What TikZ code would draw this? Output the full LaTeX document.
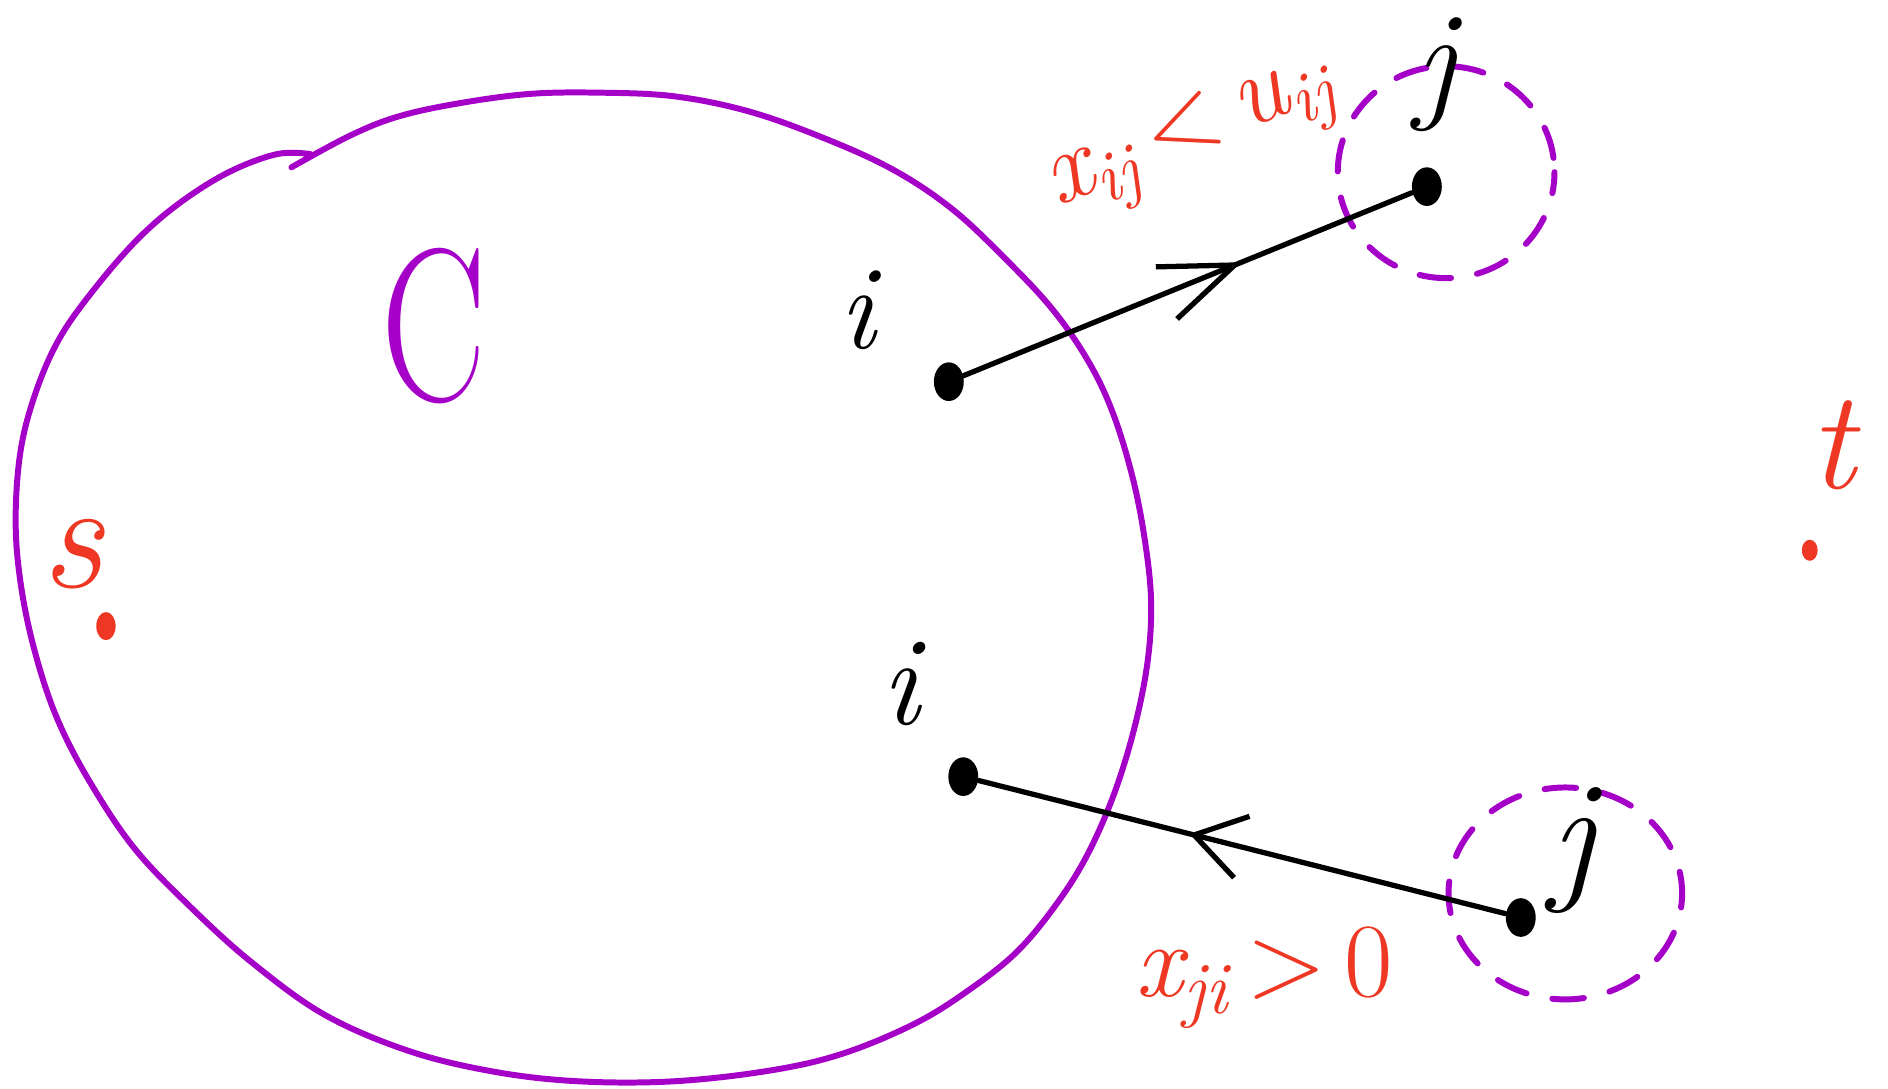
\documentclass[tikz,border=0pt]{standalone}
\usepackage{fontspec}
\usetikzlibrary{shapes.geometric,arrows.meta,decorations.markings}
\definecolor{hpurple}{RGB}{165,0,200}
\definecolor{hred}{RGB}{238,56,36}
\newcommand\lowsub[1]{\textsubscript{#1}}
\begin{document}
\begin{tikzpicture}[x=0.012041cm,y=-0.012041cm,
  pen/.style={line width=1.5pt,line cap=round,line join=round},
  ppen/.style={hpurple,line width=1.7pt,line cap=round,line join=round},
  dashring/.style={ppen,dash pattern=on 9pt off 7.5pt},
  vdot/.style={ellipse,fill=black,draw=none,inner sep=0pt,minimum width=8.5pt,minimum height=11pt},
  rdot/.style={ellipse,fill=hred,draw=none,inner sep=0pt,minimum width=5pt,minimum height=7pt},
  blab/.style={black,inner sep=0pt},
  rlab/.style={hred,inner sep=0pt},
  midarrow/.style 2 args={postaction={decorate},decoration={markings,
     mark=at position #1 with {\arrow{#2}}}}]
\useasboundingbox (0,0) rectangle (1568,904);

% cut C
\draw[ppen] plot[smooth,tension=0.6] coordinates {
 (242,139) (290,113) (330,97) (380,86) (440,78) (500,77) (560,80) (620,92)
 (680,113) (740,140) (790,173) (835,215) (875,258) (905,302) (925,345)
 (941,398) (951,450) (956,500) (953,550) (942,605) (925,660) (903,710)
 (878,750) (845,790) (805,822) (760,850) (700,875) (640,889) (560,898)
 (480,898) (410,890) (340,873) (270,843) (210,800) (160,755) (112,705)
 (75,650) (48,598) (30,545) (18,490) (13,435) (17,375) (30,325) (50,280)
 (80,238) (115,198) (150,168) (190,143) (230,128) (258,128)};
\node[hpurple,inner sep=0pt,font=\fontsize{62}{64}\selectfont] (lc) at (360,271) {\scalebox{0.72}[1]{C}};

% dashed rings around j
\draw[dashring,dash phase=3pt] (1201,143) ellipse [x radius=90,y radius=88];
\draw[dashring,dash phase=5pt] (1300,742) ellipse [x radius=97,y radius=88];

% vertices
\node[vdot] (i1) at (788,317) {};
\node[vdot] (j1) at (1185,155) {};
\node[vdot] (i2) at (800,645) {};
\node[vdot] (j2) at (1263,762) {};

% labels of vertices
\node[blab,font=\fontsize{34}{36}\selectfont\itshape] (li1) at (712,258) {i};
\node[blab,font=\fontsize{36}{38}\selectfont\itshape] (li2) at (748,568) {i};
\node[blab,font=\fontsize{38}{40}\selectfont\itshape] (lj1) at (1192,62) {j};
\node[blab,font=\fontsize{42}{44}\selectfont\itshape] (lj2) at (1306,706) {j};

% arcs
\draw[pen,midarrow={0.62}{Straight Barb[length=21pt,width=16pt,line width=1.5pt]}] (i1) -- (j1);
\draw[pen,midarrow={0.6}{Straight Barb[length=14pt,width=18pt,line width=1.5pt]}] (j2) -- (i2);

% conditions
\node[rlab,font=\fontsize{29}{31}\selectfont\itshape] (cap) at (990,116)
  {\rotatebox{22}{x\lowsub{ij}\,{\upshape<}\,u\lowsub{ij}}};
\node[rlab,font=\fontsize{30}{32}\selectfont\itshape] (flow) at (1050,812) {x\lowsub{ji}\,{\upshape>}\,{\upshape 0}};

% source and sink
\node[rlab,font=\fontsize{44}{46}\selectfont\itshape] (ls) at (60,460) {s};
\node[rdot,minimum width=5.5pt,minimum height=8pt] (sd) at (88,520) {};
\node[rlab,font=\fontsize{40}{42}\selectfont\itshape] (lt) at (1522,370) {t};
\node[rdot,minimum width=4.5pt,minimum height=6pt] (td) at (1503,457) {};
\end{tikzpicture}
\end{document}
